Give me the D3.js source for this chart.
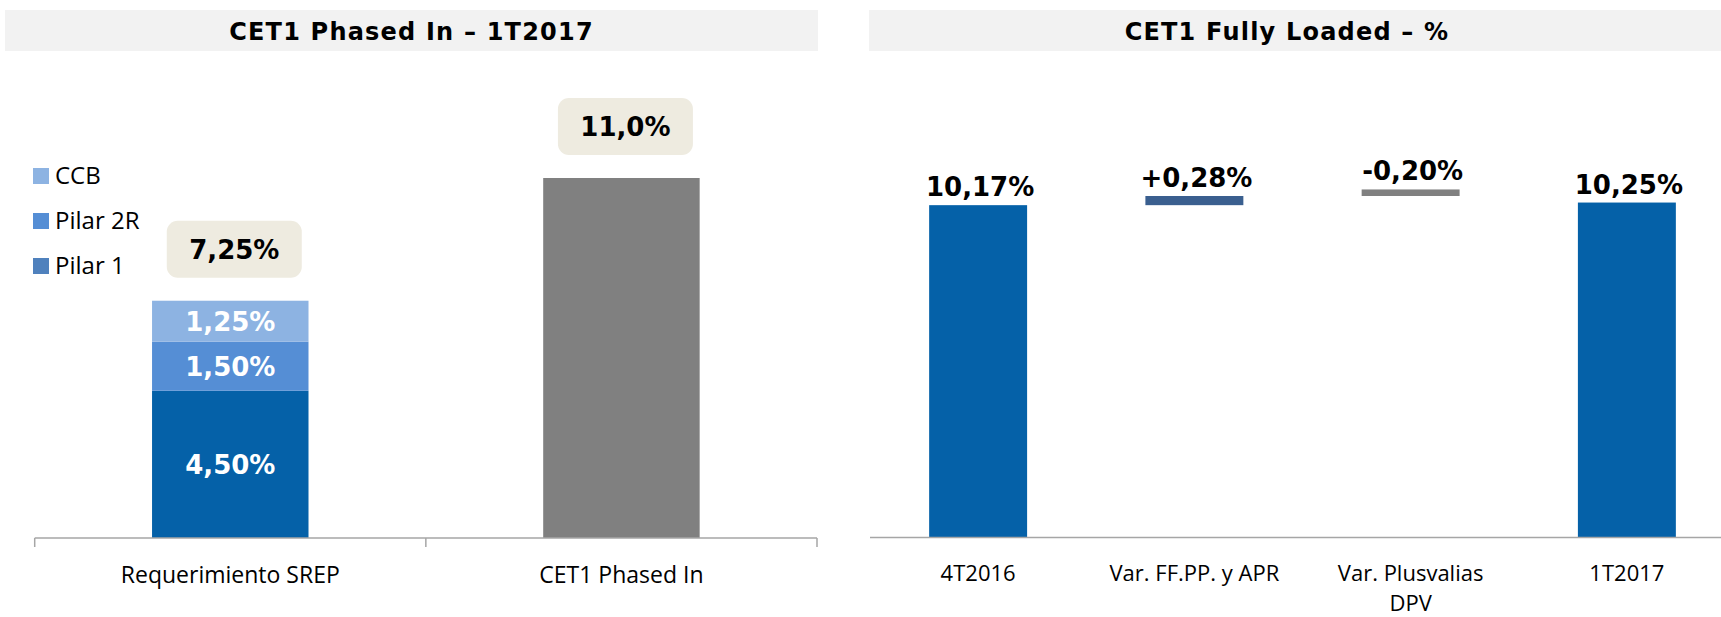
<!DOCTYPE html>
<html>
<head>
<meta charset="utf-8">
<script src="https://cdn.jsdelivr.net/npm/d3@7"></script>
<style>
  html, body { margin: 0; padding: 0; background: #fff; }
  svg { display: block; }
</style>
</head>
<body>
<svg id="svg" width="1721" height="617"></svg>
<script>
// left chart: SREP requirement vs phased in
const srepCats = ["Requerimiento SREP", "CET1 Phased In"];
const srepSeries = ["Pilar 1", "Pilar 2R", "CCB"];
const srepParts = [4.50, 1.50, 1.25];
const phasedIn = 11.0;

// right chart: fully loaded bridge
const flCats = ["4T2016", "Var. FF.PP. y APR", "Var. Plusvalias\nDPV", "1T2017"];
const flValues = [10.17, 0.28, -0.20, 10.25];
const flKinds = ["total", "delta", "delta", "total"];

const titles = ["CET1 Phased In – 1T2017", "CET1 Fully Loaded – %"];

window.addEventListener('load', function() {

    const svg = d3.select("#svg");
    const valFont = "'DejaVu Sans', sans-serif";
    const txtFont = "'Open Sans', sans-serif";
    const fmt2 = v => d3.format(".2f")(v).replace(".", ",");
    const fmt1 = v => d3.format(".1f")(v).replace(".", ",");
    const fmtSigned = v => (v > 0 ? "+" : "") + fmt2(v).replace("−", "-");

    const y = d3.scaleLinear().domain([0, 11]).range([538, 178]);

    // title bands
    const bands = [[5, 818], [869, 1721]];
    bands.forEach((b, i) => {
        svg.append("rect").attr("x", b[0]).attr("y", 10).attr("width", b[1] - b[0]).attr("height", 41).attr("fill", "#f2f2f2");
        svg.append("text").text(titles[i])
            .attr("x", i == 0 ? (b[0] + b[1]) / 2 : 1287).attr("y", 39.5)
            .attr("text-anchor", "middle")
            .attr("font-family", valFont).attr("font-weight", "bold")
            .attr("font-size", 24).attr("letter-spacing", 1.2)
            .attr("fill", "#000");
    });

    // ---------- left chart ----------
    const xl = d3.scaleBand().domain(srepCats).range([34.7, 817]).paddingInner(0.6).paddingOuter(0.3);
    const partColor = d3.scaleOrdinal(srepSeries, ["#0561a8", "#558ed5", "#8db3e2"]);
    const legendColor = d3.scaleOrdinal(srepSeries, ["#4f81bd", "#558ed5", "#8db3e2"]);

    const stacked = [];
    let acc = 0;
    srepParts.forEach((v, i) => { stacked.push({ name: srepSeries[i], y0: acc, y1: acc + v, v: v }); acc += v; });
    const srepTotal = acc;

    const gl = svg.append("g");
    gl.selectAll("rect.part")
        .data(stacked)
        .enter().append("rect")
        .attr("x", xl(srepCats[0]))
        .attr("width", xl.bandwidth())
        .attr("y", d => y(d.y1))
        .attr("height", d => y(d.y0) - y(d.y1))
        .attr("fill", d => partColor(d.name));
    gl.selectAll("text.part")
        .data(stacked)
        .enter().append("text")
        .text(d => fmt2(d.v) + "%")
        .attr("x", xl(srepCats[0]) + xl.bandwidth() / 2)
        .attr("y", d => (y(d.y0) + y(d.y1)) / 2 + 9.5)
        .attr("text-anchor", "middle")
        .attr("font-family", valFont).attr("font-weight", "bold").attr("font-size", 26)
        .attr("fill", "#fff");

    gl.append("rect")
        .attr("x", xl(srepCats[1])).attr("width", xl.bandwidth())
        .attr("y", y(phasedIn)).attr("height", y(0) - y(phasedIn))
        .attr("fill", "#808080");

    // total boxes
    const totals = [{ c: srepCats[0], v: srepTotal, t: fmt2(srepTotal) + "%" }, { c: srepCats[1], v: phasedIn, t: fmt1(phasedIn) + "%" }];
    totals.forEach(d => {
        const cx = xl(d.c) + xl.bandwidth() / 2 + 4;
        const bottom = y(d.v) - 23;
        gl.append("rect")
            .attr("x", cx - 67.5).attr("y", bottom - 57).attr("width", 135).attr("height", 57)
            .attr("rx", 11).attr("fill", "#eeebe0");
        gl.append("text").text(d.t)
            .attr("x", cx).attr("y", bottom - 28.5 + 9.5)
            .attr("text-anchor", "middle")
            .attr("font-family", valFont).attr("font-weight", "bold").attr("font-size", 26)
            .attr("fill", "#000");
    });

    // left axis with ticks at band edges
    const axl = gl.append("g").attr("transform", "translate(0,538)");
    axl.append("line").attr("x1", 34.7).attr("x2", 817).attr("stroke", "#a6a6a6").attr("stroke-width", 1.5);
    const edges = [34.7, (xl(srepCats[0]) + xl.bandwidth() + xl(srepCats[1])) / 2, 817];
    axl.selectAll("line.tick").data(edges).enter().append("line")
        .attr("x1", d => d).attr("x2", d => d).attr("y1", 0).attr("y2", 9)
        .attr("stroke", "#a6a6a6").attr("stroke-width", 1.5);
    axl.selectAll("text").data(srepCats).enter().append("text")
        .text(d => d)
        .attr("x", d => xl(d) + xl.bandwidth() / 2)
        .attr("y", 44.5)
        .attr("text-anchor", "middle")
        .attr("font-family", txtFont).attr("font-size", 23).attr("fill", "#000");

    // legend (top item = CCB)
    const legendItems = srepSeries.slice().reverse();
    const lg = gl.append("g");
    legendItems.forEach((s, i) => {
        const by = 184 + i * 45;
        lg.append("rect").attr("x", 33).attr("y", by - 16).attr("width", 16).attr("height", 16).attr("fill", legendColor(s));
        lg.append("text").text(s).attr("x", 55).attr("y", by - 0.5)
            .attr("font-family", txtFont).attr("font-size", 24).attr("fill", "#000");
    });

    // ---------- right chart ----------
    const xr = d3.scaleBand().domain(flCats).range([870, 1735]).paddingInner(0.547).paddingOuter(0.2735);
    const rows = [];
    let run = 0;
    flValues.forEach((v, i) => {
        if (flKinds[i] == "total") {
            rows.push({ c: flCats[i], y0: 0, y1: v, v: v, kind: "total" });
            run = v;
        } else {
            rows.push({ c: flCats[i], y0: run, y1: run + Math.abs(v), v: v, kind: "delta" });
            run = run + Math.abs(v);
        }
    });
    const barColor = d => d.kind == "total" ? "#0561a8" : (d.v > 0 ? "#3a5f8f" : "#808080");

    const gr = svg.append("g");
    gr.selectAll("rect").data(rows).enter().append("rect")
        .attr("x", d => xr(d.c)).attr("width", xr.bandwidth())
        .attr("y", d => y(d.y1)).attr("height", d => y(d.y0) - y(d.y1))
        .attr("fill", barColor);
    gr.selectAll("text.val").data(rows).enter().append("text")
        .text(d => d.kind == "total" ? fmt2(d.v) + "%" : fmtSigned(d.v) + "%")
        .attr("x", d => xr(d.c) + xr.bandwidth() / 2 + 2)
        .attr("y", d => y(d.y1) - 9)
        .attr("text-anchor", "middle")
        .attr("font-family", valFont).attr("font-weight", "bold").attr("font-size", 26)
        .attr("fill", "#000");

    const axr = gr.append("g").attr("transform", "translate(0,537.5)");
    axr.append("line").attr("x1", 870).attr("x2", 1721).attr("stroke", "#a6a6a6").attr("stroke-width", 1.5);
    const lab = axr.selectAll("text").data(flCats).enter().append("text")
        .attr("x", d => xr(d) + xr.bandwidth() / 2)
        .attr("y", 43)
        .attr("text-anchor", "middle")
        .attr("font-family", txtFont).attr("font-size", 22).attr("fill", "#000");
    lab.each(function(d) {
        const t = d3.select(this);
        d.split("\n").forEach((line, i) => {
            t.append("tspan").text(line)
                .attr("x", xr(d) + xr.bandwidth() / 2)
                .attr("dy", i == 0 ? 0 : 30.5);
        });
    });
})
</script>
</body>
</html>
